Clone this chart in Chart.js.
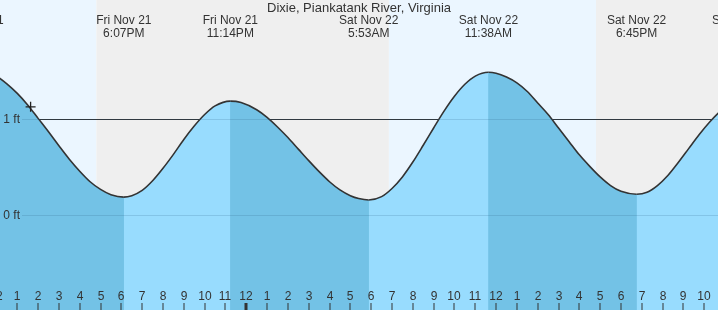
<!DOCTYPE html>
<html>
<head>
<meta charset="utf-8">
<title>Dixie, Piankatank River, Virginia</title>
<script src="https://cdn.jsdelivr.net/npm/chart.js@4.4.0/dist/chart.umd.min.js"></script>
<style>
  html, body { margin: 0; padding: 0; background: #fff; }
  #wrap { width: 718px; height: 310px; }
</style>
</head>
<body>
<div id="wrap"><canvas id="tideChart" width="718" height="310"></canvas></div>
<script>
const chartTitle = "Dixie, Piankatank River, Virginia";

// hours counted from Sat Nov 22 00:00, heights in feet (read every half hour)
const tideHours = [-14, -13.5, -12.983, -12.5, -12, -11.5, -11, -10.5, -10, -9.5, -9, -8.5, -8, -7.5, -7, -6.5, -5.883,
    -5.5, -5, -4.5, -4, -3.5, -3, -2.5, -2, -1.5, -0.767,
    -0.25, 0.5, 1, 1.5, 2, 2.5, 3, 3.5, 4, 4.5, 5, 5.4, 5.883,
    6.5, 7, 7.5, 8, 8.5, 9, 9.5, 10, 10.5, 11, 11.633,
    12, 12.5, 13, 13.5, 14, 14.5, 15, 15.5, 16, 16.5, 17, 17.5, 18, 18.75,
    19.25, 19.75, 20.25, 20.75, 21.25, 21.75, 22.25, 22.75, 23.25, 23.8, 24.5, 25];
const tideFeet = [1.45, 1.50, 1.51, 1.495, 1.45, 1.37, 1.27, 1.15, 1.01, 0.87, 0.725, 0.585, 0.46, 0.35, 0.27, 0.215, 0.19,
    0.205, 0.26, 0.36, 0.49, 0.635, 0.79, 0.93, 1.05, 1.14, 1.19,
    1.175, 1.10, 1.02, 0.92, 0.81, 0.69, 0.57, 0.455, 0.35, 0.265, 0.205, 0.175, 0.16,
    0.195, 0.28, 0.40, 0.555, 0.73, 0.91, 1.085, 1.24, 1.365, 1.45, 1.49,
    1.48, 1.44, 1.38, 1.29, 1.17, 1.05, 0.91, 0.77, 0.63, 0.51, 0.40, 0.31, 0.25, 0.22,
    0.24, 0.31, 0.415, 0.55, 0.695, 0.84, 0.97, 1.08, 1.16, 1.20, 1.18, 1.15];

// high / low tide labels
const extremeHours = [-12.983, -5.883, -0.767, 5.883, 11.633, 18.75, 23.8];
const extremeDays = ["Fri Nov 21", "Fri Nov 21", "Fri Nov 21", "Sat Nov 22", "Sat Nov 22", "Sat Nov 22", "Sat Nov 22"];
const extremeTimes = ["11:01AM", "6:07PM", "11:14PM", "5:53AM", "11:38AM", "6:45PM", "11:48PM"];

// sunset, sunrise, sunset
const sunHours = [-7.2, 6.85, 16.8];

const levelFeet = [0, 1];
const levelLabels = ["0 ft", "1 ft"];

// current time marker
const nowHour = [-10.36];
const nowFeet = [1.13];

const xMin = -11.83, xMax = 22.66;
const yMin = -0.986, yMax = 2.243;

const fallingFill = "#73c2e6";
const risingFill = "#98dcfe";
const textFont = "12px 'Liberation Sans', Arial, sans-serif";

const tidePoints = tideHours.map((h, i) => ({ x: h, y: tideFeet[i] }));

const tideDecor = {
    id: "tideDecor",
    beforeDatasetsDraw(chart) {
        const ctx = chart.ctx;
        const area = chart.chartArea;
        const xs = chart.scales.x;
        const ys = chart.scales.y;

        // day / night bands
        const edges = [xMin, ...sunHours, xMax];
        for (let i = 0; i < edges.length - 1; i++) {
            const x0 = xs.getPixelForValue(edges[i]);
            const x1 = xs.getPixelForValue(edges[i + 1]);
            ctx.fillStyle = i % 2 === 0 ? "#ebf6ff" : "#efefef";
            ctx.fillRect(x0, area.top, x1 - x0, area.bottom - area.top);
        }

        // level lines, hidden where the water covers them
        ctx.save();
        ctx.strokeStyle = "#333";
        ctx.lineWidth = 1;
        levelFeet.forEach(v => {
            const py = Math.round(ys.getPixelForValue(v)) + 0.5;
            ctx.beginPath();
            ctx.moveTo(22, py);
            ctx.lineTo(area.right, py);
            ctx.stroke();
        });
        ctx.restore();
    },
    afterDatasetsDraw(chart) {
        const ctx = chart.ctx;
        const area = chart.chartArea;
        const xs = chart.scales.x;
        const ys = chart.scales.y;

        ctx.save();
        // faint level lines seen through the water
        ctx.strokeStyle = "rgba(40, 90, 130, 0.18)";
        ctx.lineWidth = 1;
        levelFeet.forEach(v => {
            const py = Math.round(ys.getPixelForValue(v)) + 0.5;
            ctx.beginPath();
            ctx.moveTo(22, py);
            ctx.lineTo(area.right, py);
            ctx.stroke();
        });

        ctx.fillStyle = "#333";
        ctx.font = textFont;

        // y labels
        ctx.textAlign = "right";
        ctx.textBaseline = "middle";
        levelFeet.forEach((v, i) => {
            ctx.fillText(levelLabels[i], 20, ys.getPixelForValue(v));
        });

        // hour ticks along the bottom
        ctx.textAlign = "center";
        ctx.textBaseline = "alphabetic";
        for (let h = Math.ceil(xMin - 1); h <= Math.floor(xMax + 1); h++) {
            const px = Math.round(xs.getPixelForValue(h));
            let hour = ((h % 12) + 12) % 12;
            if (hour === 0) hour = 12;
            ctx.fillText(String(hour), px, 300);
            if (h === 0) {
                ctx.fillRect(px - 1.5, 303, 3, area.bottom - 303);
            } else {
                ctx.fillRect(px - 0.5, 303, 1, area.bottom - 303);
            }
        }

        // high / low labels
        extremeHours.forEach((h, i) => {
            const px = xs.getPixelForValue(h);
            ctx.fillText(extremeDays[i], px, 24);
            ctx.fillText(extremeTimes[i], px, 37);
        });

        // title
        ctx.font = "13px 'Liberation Sans', Arial, sans-serif";
        ctx.fillText(chartTitle, (area.left + area.right) / 2, 12);
        ctx.restore();
    }
};

new Chart(document.getElementById("tideChart"), {
    type: "line",
    data: {
        datasets: [
            {
                type: "scatter",
                data: nowHour.map((h, i) => ({ x: h, y: nowFeet[i] })),
                pointStyle: "cross",
                pointRadius: 5,
                borderColor: "#222",
                borderWidth: 1.3,
                showLine: false,
                order: 0
            },
            {
                // rising water drawn lighter, curve stroked on top
                data: tidePoints,
                borderColor: "#333",
                borderWidth: 1.6,
                backgroundColor: "rgba(0,0,0,0)",
                fill: "start",
                pointRadius: 0,
                cubicInterpolationMode: "monotone",
                segment: {
                    backgroundColor: c => c.p1.parsed.y > c.p0.parsed.y ? risingFill : "rgba(0,0,0,0)"
                },
                order: 1
            },
            {
                // falling water under everything
                data: tidePoints,
                borderWidth: 0,
                borderColor: "rgba(0,0,0,0)",
                backgroundColor: fallingFill,
                fill: "start",
                pointRadius: 0,
                cubicInterpolationMode: "monotone",
                order: 2
            }
        ]
    },
    options: {
        responsive: false,
        animation: false,
        devicePixelRatio: 1,
        layout: { padding: 0, autoPadding: false },
        scales: {
            x: { type: "linear", min: xMin, max: xMax, display: false },
            y: { type: "linear", min: yMin, max: yMax, display: false }
        },
        plugins: {
            legend: { display: false },
            tooltip: { enabled: false }
        }
    },
    plugins: [tideDecor]
});
</script>
</body>
</html>
